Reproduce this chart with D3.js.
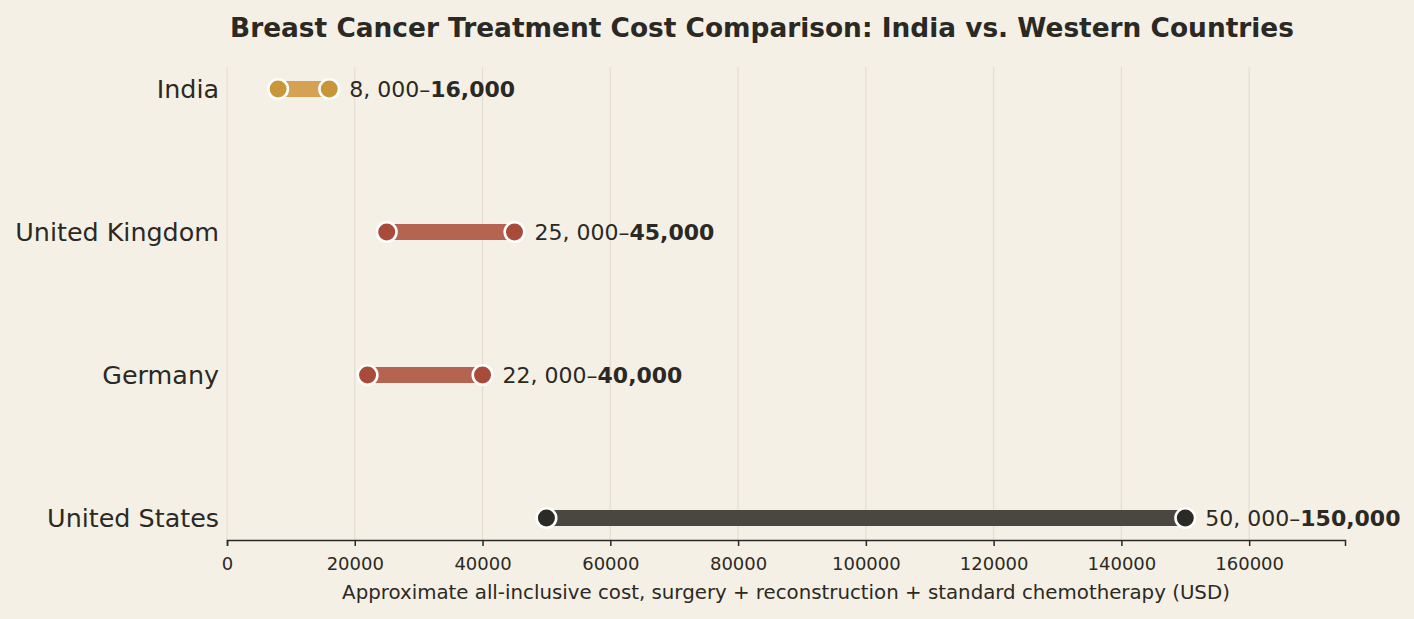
<!DOCTYPE html>
<html lang="en">
<head>
    <meta charset="UTF-8">
    <title>Breast Cancer Treatment Cost Comparison</title>
    <style>
        body {
            margin: 0;
            padding: 0;
            background-color: #f5f0e6;
            font-family: 'DejaVu Sans', sans-serif;
            color: #2b2924;
        }
        .grid line { stroke: #e4ded2; stroke-width: 1.2px; }
        .cat-label { font-size: 25.4px; fill: #2b2924; }
        .val-label { font-size: 22px; fill: #2b2924; }
        .x-axis text { font-size: 18px; fill: #2b2924; font-family: 'DejaVu Sans', sans-serif; }
        .x-axis path, .x-axis line { stroke: #2b2924; stroke-width: 1.5px; }
    </style>
</head>
<body>
    <svg id="chart"></svg>

    <script src="https://d3js.org/d3.v7.min.js"></script>
    <script>
        // Data
        const countries = ['India', 'United Kingdom', 'Germany', 'United States'];
        const lowCost = [8000, 25000, 22000, 50000];
        const highCost = [16000, 45000, 40000, 150000];
        const lowLabels = ['8, 000', '25, 000', '22, 000', '50, 000'];
        const highLabels = ['16,000', '45,000', '40,000', '150,000'];
        const xTicks = [0, 20000, 40000, 60000, 80000, 100000, 120000, 140000, 160000];

        const barColors = ['#d4a155', '#b66452', '#b66452', '#4a4740'];
        const dotColors = ['#c9963a', '#a84b3a', '#a84b3a', '#2b2a26'];

        const rows = countries.map((c, i) => ({
            country: c, low: lowCost[i], high: highCost[i],
            lowLabel: lowLabels[i], highLabel: highLabels[i],
            bar: barColors[i], dot: dotColors[i]
        }));

        const width = 1414, height = 619;
        const margin = { top: 67, right: 69, bottom: 79, left: 227 };

        const svg = d3.select('#chart')
            .attr('width', width)
            .attr('height', height);

        const x = d3.scaleLinear()
            .domain([0, 175000])
            .range([margin.left, width - margin.right]);

        const y = d3.scalePoint()
            .domain(countries)
            .range([margin.top, height - margin.bottom])
            .padding(0.154);

        // Title
        svg.append('text')
            .attr('x', 762)
            .attr('y', 37)
            .attr('text-anchor', 'middle')
            .style('font-size', '26.4px')
            .style('font-weight', 'bold')
            .style('fill', '#2b2924')
            .text('Breast Cancer Treatment Cost Comparison: India vs. Western Countries');

        // Vertical gridlines
        svg.append('g')
            .attr('class', 'grid')
            .selectAll('line')
            .data(xTicks)
            .enter()
            .append('line')
            .attr('x1', d => x(d))
            .attr('x2', d => x(d))
            .attr('y1', margin.top)
            .attr('y2', height - margin.bottom);

        // X axis
        svg.append('g')
            .attr('class', 'x-axis')
            .attr('transform', `translate(0,${height - margin.bottom})`)
            .call(d3.axisBottom(x).tickValues(xTicks).tickFormat(d3.format('d')).tickSizeOuter(0).tickSize(6).tickPadding(11));

        svg.append('text')
            .attr('x', 786)
            .attr('y', 599)
            .attr('text-anchor', 'middle')
            .style('font-size', '19.8px')
            .style('fill', '#2b2924')
            .text('Approximate all-inclusive cost, surgery + reconstruction + standard chemotherapy (USD)');

        // Category labels
        svg.selectAll('.cat-label')
            .data(rows)
            .enter()
            .append('text')
            .attr('class', 'cat-label')
            .attr('x', margin.left - 8)
            .attr('y', d => y(d.country))
            .attr('dy', '0.36em')
            .attr('text-anchor', 'end')
            .text(d => d.country);

        // Range bars
        svg.selectAll('.range-bar')
            .data(rows)
            .enter()
            .append('line')
            .attr('class', 'range-bar')
            .attr('x1', d => x(d.low))
            .attr('x2', d => x(d.high))
            .attr('y1', d => y(d.country))
            .attr('y2', d => y(d.country))
            .attr('stroke', d => d.bar)
            .attr('stroke-width', 16);

        // End dots
        const dots = rows.flatMap(d => [
            { country: d.country, v: d.low, color: d.dot },
            { country: d.country, v: d.high, color: d.dot }
        ]);
        svg.selectAll('.dot')
            .data(dots)
            .enter()
            .append('circle')
            .attr('class', 'dot')
            .attr('cx', d => x(d.v))
            .attr('cy', d => y(d.country))
            .attr('r', 9.8)
            .attr('fill', d => d.color)
            .attr('stroke', '#fff')
            .attr('stroke-width', 2.6);

        // Value labels
        const vl = svg.selectAll('.val-label')
            .data(rows)
            .enter()
            .append('text')
            .attr('class', 'val-label')
            .attr('x', d => x(d.high) + 20)
            .attr('y', d => y(d.country))
            .attr('dy', '0.36em');
        vl.append('tspan').text(d => d.lowLabel + '\u2013');
        vl.append('tspan').style('font-weight', 'bold').text(d => d.highLabel);
    </script>
</body>
</html>
